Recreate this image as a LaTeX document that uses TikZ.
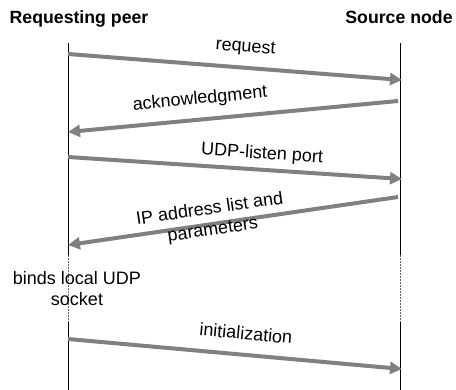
\documentclass[tikz,border=0pt]{standalone}
\usepackage{fontspec}
\setmainfont{Liberation Sans}
\usetikzlibrary{arrows.meta}
\usetikzlibrary{positioning}
\definecolor{msggray}{RGB}{128,128,128}

\begin{document}
\begin{tikzpicture}[
		x=1pt,
		y=-1pt,
		actor node/.style={font=\fontsize{17.7}{21}\selectfont\bfseries, anchor=base, inner sep=0pt},
		note node/.style={font=\fontsize{18}{21}\selectfont, align=center, inner sep=0pt},
		msg label/.style={font=\fontsize{18}{21}\selectfont, align=center, sloped, inner sep=1pt},
		life line/.style={draw=black, line width=0.8pt},
		pause line/.style={draw=black!60, line width=0.9pt, dash pattern=on 2pt off 1pt},
		msg/.style={draw=msggray, line width=4pt, -{Triangle[length=12pt,width=12pt]}}
		]
		\useasboundingbox (0,0) rectangle (456,390);
		
		\node[actor node] (peer) at (79,24) {Requesting peer};
		\node[actor node] (source) at (399,24) {Source node};
		
		% lifelines
		\coordinate (peer top) at (68,43);
		\coordinate (peer gap) at (68,255);
		\coordinate (peer back) at (68,322);
		\coordinate (peer end) at (68,390);
		\coordinate (source top) at (400,43);
		\coordinate (source gap) at (400,255);
		\coordinate (source back) at (400,322);
		\coordinate (source end) at (400,390);
		
		\path[life line] (peer top) -- (peer gap) (peer back) -- (peer end);
		\path[life line] (source top) -- (source gap) (source back) -- (source end);
		\path[pause line] (peer gap) -- (peer back);
		\path[pause line] (source gap) -- (source back);
		
		\node[note node] (bind) at (77,289) {binds local UDP\\socket};
		
		% messages
		\coordinate (m1a) at (68,54);
		\coordinate (m1b) at (402,80);
		\coordinate (m2a) at (398,101);
		\coordinate (m2b) at (68,132);
		\coordinate (m3a) at (68,157);
		\coordinate (m3b) at (402,179);
		\coordinate (m4a) at (398,197);
		\coordinate (m4b) at (68,245);
		\coordinate (m5a) at (68,339);
		\coordinate (m5b) at (402,369);
		
		\draw[msg] (m1a) to node[msg label, pos=0.527, above=9pt] {request} (m1b);
		\draw[msg] (m2a) to node[msg label, pos=0.594, above=9pt] {acknowledgment} (m2b);
		\draw[msg] (m3a) to node[msg label, pos=0.578, above=4pt] {UDP-listen port} (m3b);
		\draw[msg] (m4a) to node[msg label, pos=0.564, yshift=4pt] {IP address list and\\parameters} (m4b);
		\draw[msg] (m5a) to node[msg label, pos=0.527, above=12pt] {initialization} (m5b);
	\end{tikzpicture}
\end{document}
